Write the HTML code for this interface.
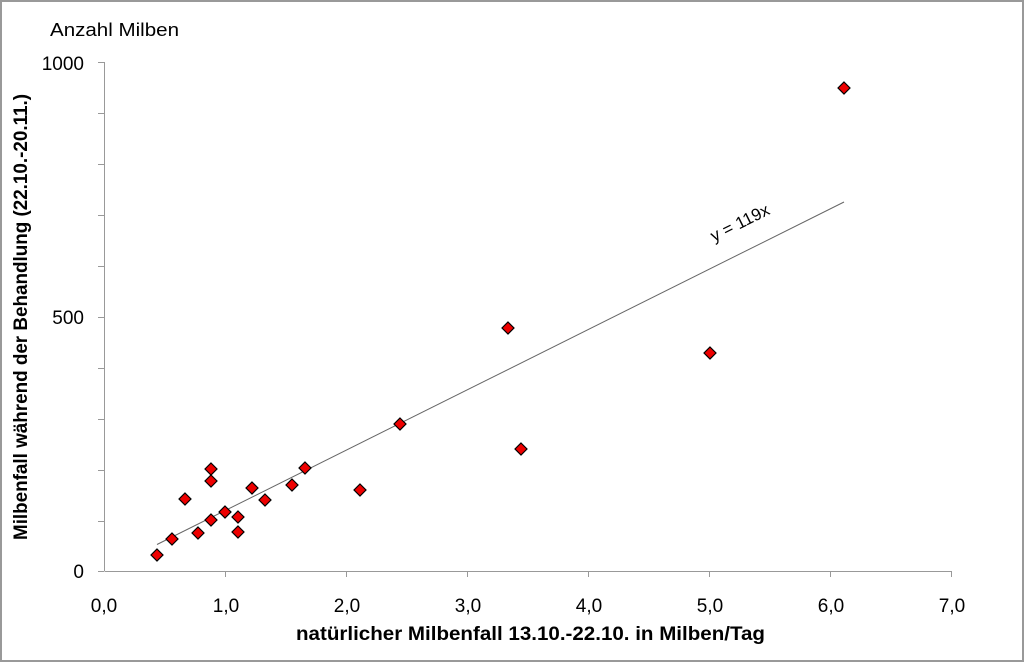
<!DOCTYPE html>
<html><head><style>
html,body{margin:0;padding:0;background:#fff;}
svg{display:block;}
text{font-family:"Liberation Sans",sans-serif;fill:#000;}
</style></head><body>
<svg width="1024" height="662" viewBox="0 0 1024 662">
<rect x="1" y="1" width="1022" height="660" fill="#fff" stroke="#999" stroke-width="2"/>
<text x="50" y="36" font-size="18" textLength="129" lengthAdjust="spacingAndGlyphs">Anzahl Milben</text>
<g stroke="#999" stroke-width="1">
<line x1="104.5" y1="62" x2="104.5" y2="571"/>
<line x1="104.5" y1="571.5" x2="952" y2="571.5"/>
<line x1="98" y1="62.5" x2="104" y2="62.5"/>
<line x1="98" y1="113.5" x2="104" y2="113.5"/>
<line x1="98" y1="164.5" x2="104" y2="164.5"/>
<line x1="98" y1="215.5" x2="104" y2="215.5"/>
<line x1="98" y1="266.5" x2="104" y2="266.5"/>
<line x1="98" y1="317.5" x2="104" y2="317.5"/>
<line x1="98" y1="368.5" x2="104" y2="368.5"/>
<line x1="98" y1="419.5" x2="104" y2="419.5"/>
<line x1="98" y1="470.5" x2="104" y2="470.5"/>
<line x1="98" y1="521.5" x2="104" y2="521.5"/>
<line x1="98" y1="571.5" x2="104" y2="571.5"/>
<line x1="225.5" y1="571" x2="225.5" y2="577"/>
<line x1="346.5" y1="571" x2="346.5" y2="577"/>
<line x1="467.5" y1="571" x2="467.5" y2="577"/>
<line x1="588.5" y1="571" x2="588.5" y2="577"/>
<line x1="709.5" y1="571" x2="709.5" y2="577"/>
<line x1="830.5" y1="571" x2="830.5" y2="577"/>
<line x1="951.5" y1="571" x2="951.5" y2="577"/>
</g>
<g font-size="19" text-anchor="end">
<text x="84" y="70">1000</text>
<text x="84" y="324">500</text>
<text x="84" y="578">0</text>
</g>
<g font-size="19" text-anchor="middle">
<text x="104" y="612">0,0</text>
<text x="226" y="612">1,0</text>
<text x="347" y="612">2,0</text>
<text x="468" y="612">3,0</text>
<text x="589" y="612">4,0</text>
<text x="710" y="612">5,0</text>
<text x="831" y="612">6,0</text>
<text x="952" y="612">7,0</text>
</g>
<text x="296" y="640" font-size="19" font-weight="bold" textLength="469" lengthAdjust="spacingAndGlyphs">natürlicher Milbenfall 13.10.-22.10. in Milben/Tag</text>
<text transform="translate(27,540) rotate(-90)" font-size="19" font-weight="bold" textLength="446" lengthAdjust="spacingAndGlyphs">Milbenfall während der Behandlung (22.10.-20.11.)</text>
<line x1="157" y1="544.5" x2="844" y2="202" stroke="#666" stroke-width="1"/>
<text transform="translate(714,242) rotate(-26.5)" font-size="17">y = 119x</text>
<g fill="#e00" stroke="#000" stroke-width="1.2">
<path d="M157,549l6,6l-6,6l-6,-6z"/>
<path d="M172,533l6,6l-6,6l-6,-6z"/>
<path d="M185,493l6,6l-6,6l-6,-6z"/>
<path d="M198,527l6,6l-6,6l-6,-6z"/>
<path d="M211,463l6,6l-6,6l-6,-6z"/>
<path d="M211,475l6,6l-6,6l-6,-6z"/>
<path d="M211,514l6,6l-6,6l-6,-6z"/>
<path d="M225,506l6,6l-6,6l-6,-6z"/>
<path d="M238,511l6,6l-6,6l-6,-6z"/>
<path d="M238,526l6,6l-6,6l-6,-6z"/>
<path d="M252,482l6,6l-6,6l-6,-6z"/>
<path d="M265,494l6,6l-6,6l-6,-6z"/>
<path d="M292,479l6,6l-6,6l-6,-6z"/>
<path d="M305,462l6,6l-6,6l-6,-6z"/>
<path d="M360,484l6,6l-6,6l-6,-6z"/>
<path d="M400,418l6,6l-6,6l-6,-6z"/>
<path d="M508,322l6,6l-6,6l-6,-6z"/>
<path d="M521,443l6,6l-6,6l-6,-6z"/>
<path d="M710,347l6,6l-6,6l-6,-6z"/>
<path d="M844,82l6,6l-6,6l-6,-6z"/>
</g>
</svg>
</body></html>
